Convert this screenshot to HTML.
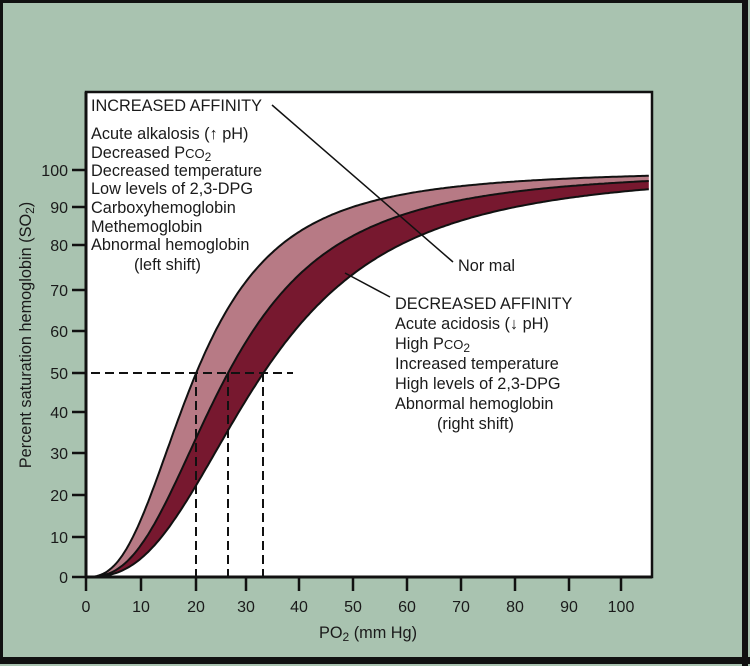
<!DOCTYPE html>
<html><head><meta charset="utf-8"><style>
html,body{margin:0;padding:0;background:#a9c3b0}
svg{display:block}
text{font-family:"Liberation Sans",sans-serif;fill:#1a1a1a}
</style></head><body>
<svg id="s" width="750" height="666" xmlns="http://www.w3.org/2000/svg">
<rect x="0" y="0" width="750" height="666" fill="#a9c3b0"/>
<rect x="1.5" y="1.5" width="743" height="659" fill="none" stroke="#111" stroke-width="3"/>
<rect x="742" y="0" width="6" height="666" fill="#111"/>
<rect x="0" y="657" width="750" height="7" fill="#111"/>
<rect x="86" y="92" width="566" height="485" fill="#fff" stroke="#111" stroke-width="2.5"/>
<g id="curves"></g>
<g stroke="#111" stroke-width="2" stroke-dasharray="9,5" fill="none">
<line x1="91" y1="373" x2="293" y2="373"/>
<line x1="196" y1="373" x2="196" y2="577"/>
<line x1="228" y1="373" x2="228" y2="577"/>
<line x1="263" y1="373" x2="263" y2="577"/>
</g>
<line x1="86" y1="92" x2="86" y2="578" stroke="#111" stroke-width="3"/>
<line x1="85" y1="577" x2="652" y2="577" stroke="#111" stroke-width="3"/>
<g stroke="#111" stroke-width="1.5">
<line x1="272" y1="105" x2="453" y2="262"/>
<line x1="345" y1="273" x2="390" y2="297"/>
</g>
<g id="ticks" stroke="#111" stroke-width="2.5"></g>
<g font-size="16.3">
<text x="91" y="111">INCREASED AFFINITY</text>
<text x="91" y="139">Acute alkalosis (↑ pH)</text>
<text x="91" y="158">Decreased P<tspan font-size="13">CO</tspan><tspan font-size="12" dy="3">2</tspan></text>
<text x="91" y="176">Decreased temperature</text>
<text x="91" y="194">Low levels of 2,3-DPG</text>
<text x="91" y="213">Carboxyhemoglobin</text>
<text x="91" y="232">Methemoglobin</text>
<text x="91" y="250">Abnormal hemoglobin</text>
<text x="134" y="270">(left shift)</text>
<text x="458" y="271">Nor mal</text>
<text x="395" y="309">DECREASED AFFINITY</text>
<text x="395" y="329">Acute acidosis (↓ pH)</text>
<text x="395" y="349">High P<tspan font-size="13">CO</tspan><tspan font-size="12" dy="3">2</tspan></text>
<text x="395" y="369">Increased temperature</text>
<text x="395" y="389">High levels of 2,3-DPG</text>
<text x="395" y="409">Abnormal hemoglobin</text>
<text x="437" y="429">(right shift)</text>
<text x="368" y="638" text-anchor="middle">PO<tspan font-size="12" dy="3">2</tspan><tspan dy="-3"> (mm Hg)</tspan></text>
<text transform="translate(31,335) rotate(-90)" text-anchor="middle">Percent saturation hemoglobin (SO<tspan font-size="12" dy="3">2</tspan><tspan dy="-3">)</tspan></text>
</g>
<g id="labels" font-size="16"></g>
</svg>
<script>
var yT=[577,537,495,453,412,373,331,290,245,207,170];
var xT=[86,141,196,246,299,353,407,461,515,569,621];
function Yc(s){return 577-4.07*s;}
function Xc(v){return 86+5.35*v;}
function S(v,p){if(v<=0)return 0;return 100/(1+Math.pow(p/v,2.6));}
function pts(p){var a=[];for(var v=0;v<=105.6;v+=0.4){a.push([Xc(v),Yc(S(v,p))]);}return a;}
var L=pts(20.56),N=pts(26.5),R=pts(33.1);
function d(a){return a.map(function(q,i){return (i?'L':'M')+q[0].toFixed(1)+','+q[1].toFixed(1)}).join('');}
function band(a,b){return d(a)+b.slice().reverse().map(function(q){return 'L'+q[0].toFixed(1)+','+q[1].toFixed(1)}).join('')+'Z';}
var ns="http://www.w3.org/2000/svg";var g=document.getElementById('curves');
function P(dd,fill,stroke){var e=document.createElementNS(ns,'path');e.setAttribute('d',dd);e.setAttribute('fill',fill);if(stroke){e.setAttribute('stroke',stroke);e.setAttribute('stroke-width','2');}g.appendChild(e);}
P(band(L,N),'#b77a85');P(band(N,R),'#77182f');
P(d(L),'none','#111');P(d(N),'none','#111');P(d(R),'none','#111');
var t=document.getElementById('ticks'),lb=document.getElementById('labels');
function ln(x1,y1,x2,y2){var e=document.createElementNS(ns,'line');e.setAttribute('x1',x1);e.setAttribute('y1',y1);e.setAttribute('x2',x2);e.setAttribute('y2',y2);t.appendChild(e);}
function tx(x,y,s,anc){var e=document.createElementNS(ns,'text');e.setAttribute('x',x);e.setAttribute('y',y);e.setAttribute('text-anchor',anc);e.textContent=s;lb.appendChild(e);}
for(var i=0;i<=10;i++){ln(72,yT[i],86,yT[i]);tx(68,yT[i]+6,String(i*10),'end');ln(xT[i],577,xT[i],591);tx(xT[i],612,String(i*10),'middle');}
</script>
</body></html>
